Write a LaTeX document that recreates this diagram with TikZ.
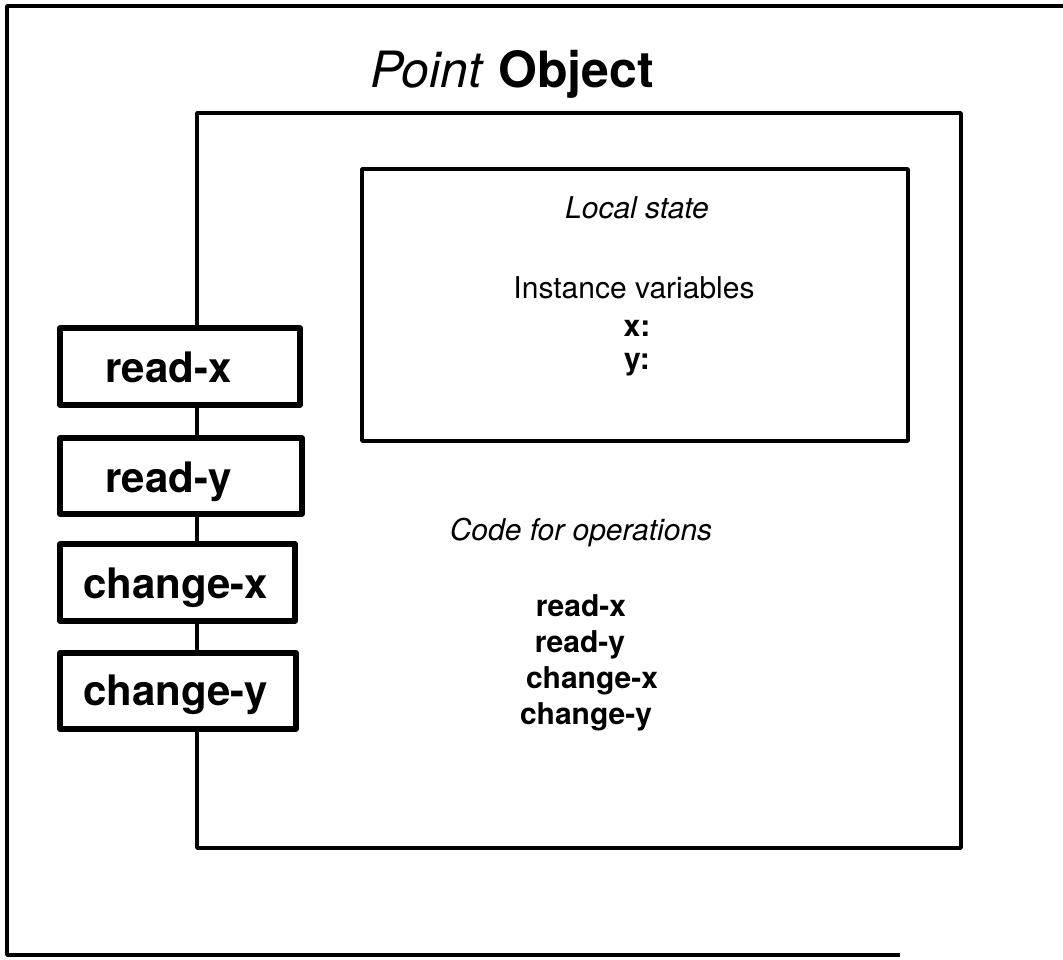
\documentclass[tikz,border=0pt]{standalone}
\usepackage{fontspec}
\setmainfont{TeX Gyre Heros}
\begin{document}
\begin{tikzpicture}[x=1pt,y=-1pt,line join=round,
  frame/.style={line width=3.5pt},
  objbox/.style={draw, line width=3.5pt, inner sep=0pt},
  methodbox/.style={draw, line width=5.5pt, fill=white, inner sep=0pt},
  methodlabel/.style={font=\fontsize{42}{48}\selectfont\bfseries, anchor=base west, inner sep=0pt},
  body/.style={font=\fontsize{30}{36}\selectfont, anchor=base, inner sep=0pt},
  bodyit/.style={body, font=\fontsize{30}{36}\selectfont\itshape},
  bodybf/.style={body, font=\fontsize{30}{36}\selectfont\bfseries},
  titletext/.style={font=\fontsize{50}{58}\selectfont, anchor=base, inner sep=0pt}
]
\useasboundingbox (0,0) rectangle (1063,959);
% outer frame (open on the right)
\coordinate (fTR) at (1063,6);
\coordinate (fTL) at (7,6);
\coordinate (fBL) at (7,955);
\coordinate (fBR) at (900,955);
\draw[frame] (fTR) -- (fTL) -- (fBL) -- (fBR);

\node[titletext] (title) at (512,87) {\textit{Point} \textbf{Object}};

% object box
\node[objbox, minimum width=764pt, minimum height=735pt] (obj) at (579,480.5) {};
% local state box
\node[objbox, minimum width=546pt, minimum height=272pt] (state) at (635,305) {};

\node[bodyit] (ls) at (637,218) {Local state};
\node[body] (iv) at (634,298) {Instance variables};
\node[bodybf] (vx) at (637,336) {x:};
\node[bodybf] (vy) at (637,369) {y:};

\node[bodyit] (code) at (581,540) {Code for operations};
\node[bodybf] (crx) at (581,616) {read-x};
\node[bodybf] (cry) at (580,652) {read-y};
\node[bodybf] (ccx) at (592,688) {change-x};
\node[bodybf] (ccy) at (586,724) {change-y};

% method boxes
\node[methodbox, minimum width=240pt, minimum height=77pt] (rx) at (180,366.5) {};
\node[methodbox, minimum width=242pt, minimum height=76pt] (ry) at (181,476) {};
\node[methodbox, minimum width=235pt, minimum height=77pt] (cx) at (177.5,582.5) {};
\node[methodbox, minimum width=236pt, minimum height=76pt] (cy) at (178,691) {};

\node[methodlabel] (rxl) at (105,382) {read-x};
\node[methodlabel] (ryl) at (105,492) {read-y};
\node[methodlabel] (cxl) at (83,598) {change-x};
\node[methodlabel] (cyl) at (83,705) {change-y};
\end{tikzpicture}
\end{document}
